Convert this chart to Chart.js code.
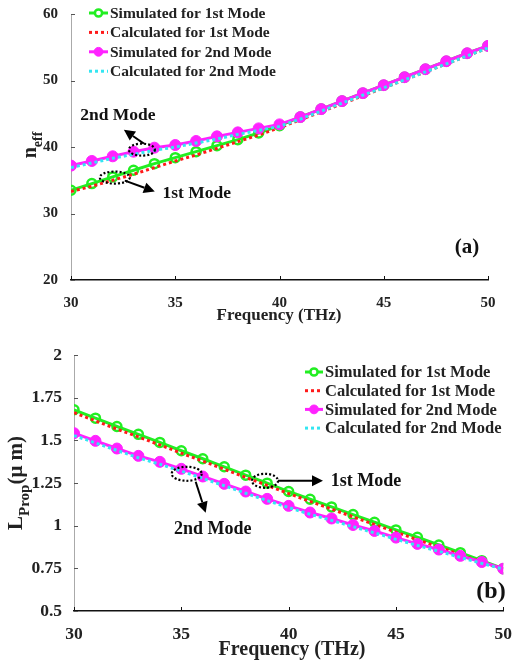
<!DOCTYPE html>
<html>
<head>
<meta charset="utf-8">
<script src="https://cdn.jsdelivr.net/npm/chart.js@4.4.0/dist/chart.umd.min.js"></script>
<style>
    html, body { margin: 0; padding: 0; background: #fff; }
    #wrap { position: relative; width: 517px; height: 662px; }
    canvas { position: absolute; left: 0; }
</style>
</head>
<body>
<div id="wrap">
    <canvas id="neffChart" width="517" height="331" style="top:0"></canvas>
    <canvas id="lpropChart" width="517" height="331" style="top:331px"></canvas>
</div>
<script>
// Frequency (THz), shared by both panels
const freqs = [30, 31, 32, 33, 34, 35, 36, 37, 38, 39, 40, 41, 42, 43, 44, 45, 46, 47, 48, 49, 50];
const freqTicks = [30, 35, 40, 45, 50];

// (a) effective index
const neffSim1 = [33.5, 34.5, 35.5, 36.5, 37.5, 38.4, 39.3, 40.2, 41.1, 42.1, 43.2, 44.5, 45.7, 46.9, 48.1, 49.3, 50.5, 51.7, 52.9, 54.1, 55.2];
const neffCalc1 = [33.3, 34.1, 35.0, 35.9, 36.9, 37.9, 38.8, 39.8, 40.8, 41.8, 42.9, 44.1, 45.3, 46.5, 47.7, 48.9, 50.1, 51.3, 52.5, 53.7, 54.9];
const neffSim2 = [37.2, 37.9, 38.6, 39.3, 39.9, 40.3, 40.9, 41.6, 42.2, 42.8, 43.4, 44.5, 45.7, 46.9, 48.1, 49.3, 50.5, 51.7, 52.9, 54.1, 55.2];
const neffCalc2 = [36.9, 37.6, 38.3, 38.9, 39.5, 40.0, 40.6, 41.2, 41.9, 42.5, 43.1, 44.2, 45.4, 46.6, 47.8, 48.9, 50.1, 51.3, 52.5, 53.7, 54.9];
const neffTicks = [20, 30, 40, 50, 60];

// (b) propagation length (um)
const lpSim1 = [1.679, 1.630, 1.581, 1.535, 1.488, 1.439, 1.392, 1.345, 1.296, 1.249, 1.200, 1.155, 1.110, 1.065, 1.020, 0.975, 0.932, 0.887, 0.842, 0.795, 0.748];
const lpCalc1 = [1.662, 1.614, 1.566, 1.520, 1.473, 1.425, 1.378, 1.331, 1.283, 1.236, 1.188, 1.142, 1.097, 1.052, 1.007, 0.962, 0.918, 0.874, 0.830, 0.787, 0.745];
const lpSim2 = [1.542, 1.497, 1.452, 1.409, 1.374, 1.333, 1.288, 1.245, 1.200, 1.157, 1.116, 1.077, 1.042, 1.004, 0.969, 0.930, 0.893, 0.860, 0.823, 0.787, 0.748];
const lpCalc2 = [1.528, 1.485, 1.441, 1.398, 1.360, 1.320, 1.277, 1.234, 1.190, 1.147, 1.106, 1.067, 1.031, 0.994, 0.958, 0.920, 0.884, 0.850, 0.814, 0.779, 0.745];
const lpTicks = [0.5, 0.75, 1, 1.25, 1.5, 1.75, 2];

const seriesNames = ['Simulated for 1st Mode', 'Calculated for 1st Mode', 'Simulated for 2nd Mode', 'Calculated for 2nd Mode'];

const SERIF = '"Liberation Serif", "Times New Roman", serif';

function pts(ys) {
    return freqs.map((f, i) => ({ x: f, y: ys[i] }));
}

function makeDatasets(s1, c1, s2, c2) {
    return [
        {
            label: seriesNames[0], data: pts(s1), order: 4,
            borderColor: '#22ee22', borderWidth: 3,
            pointStyle: 'circle', pointRadius: 4.5, pointBorderWidth: 2.5,
            pointBorderColor: '#22ee22', pointBackgroundColor: 'rgba(255,255,255,0)'
        },
        {
            label: seriesNames[1], data: pts(c1), order: 3,
            borderColor: '#ff1a1a', borderWidth: 3, borderDash: [3, 3], pointRadius: 0
        },
        {
            label: seriesNames[2], data: pts(s2), order: 2,
            borderColor: '#ff22ff', borderWidth: 3,
            pointStyle: 'circle', pointRadius: 5.5, pointBorderWidth: 1,
            pointBorderColor: '#ff22ff', pointBackgroundColor: '#ff22ff'
        },
        {
            label: seriesNames[3], data: pts(c2), order: 1,
            borderColor: '#33e6f2', borderWidth: 3, borderDash: [3, 3], pointRadius: 0
        }
    ];
}

// ticks pointing into the plot, titles with subscripts, legend, notes
const decorPlugin = {
    id: 'decor',
    afterDraw(chart, args, o) {
        const ctx = chart.ctx;
        const xs = chart.scales.x, ys = chart.scales.y;
        const a = chart.chartArea;
        ctx.save();

        // inward ticks
        ctx.lineWidth = 1;
        ctx.strokeStyle = '#111';
        xs.ticks.forEach(t => {
            const px = Math.round(xs.getPixelForValue(t.value)) + 0.5;
            ctx.beginPath(); ctx.moveTo(px, a.bottom); ctx.lineTo(px, a.bottom - 4); ctx.stroke();
        });
        ctx.strokeStyle = '#555';
        ys.ticks.forEach(t => {
            const py = Math.round(ys.getPixelForValue(t.value)) + 0.5;
            ctx.beginPath(); ctx.moveTo(a.left, py); ctx.lineTo(a.left + 4, py); ctx.stroke();
        });

        ctx.fillStyle = '#222';
        ctx.textBaseline = 'middle';

        // x title
        ctx.textAlign = 'center';
        ctx.font = 'bold ' + o.xTitle.size + 'px ' + SERIF;
        ctx.fillText(o.xTitle.text, o.xTitle.x, o.xTitle.y);

        // y title with subscript, rotated
        const yt = o.yTitle;
        ctx.save();
        ctx.translate(yt.x, yt.y);
        ctx.rotate(-Math.PI / 2);
        const fMain = 'bold ' + yt.size + 'px ' + SERIF;
        const fSub = 'bold ' + yt.subSize + 'px ' + SERIF;
        ctx.font = fMain; const w1 = ctx.measureText(yt.main).width;
        ctx.font = fSub; const w2 = ctx.measureText(yt.sub).width;
        let w3 = 0;
        if (yt.rest) { ctx.font = fMain; w3 = ctx.measureText(yt.rest).width; }
        let cx = -(w1 + w2 + w3) / 2;
        ctx.textAlign = 'left';
        ctx.font = fMain; ctx.fillText(yt.main, cx, 0); cx += w1;
        ctx.font = fSub; ctx.fillText(yt.sub, cx, yt.size * 0.38); cx += w2;
        if (yt.rest) { ctx.font = fMain; ctx.fillText(yt.rest, cx, 0); }
        ctx.restore();

        // legend
        const lg = o.legend;
        chart.data.datasets.forEach((ds, i) => {
            const y = lg.y + i * lg.rowH;
            ctx.save();
            ctx.strokeStyle = ds.borderColor;
            ctx.lineWidth = ds.borderWidth;
            ctx.setLineDash(ds.borderDash || []);
            ctx.beginPath(); ctx.moveTo(lg.x, y); ctx.lineTo(lg.x + lg.sampleW, y); ctx.stroke();
            ctx.setLineDash([]);
            if (ds.pointRadius) {
                const mx = lg.x + lg.sampleW / 2;
                ctx.beginPath(); ctx.arc(mx, y, ds.pointRadius * 0.8, 0, Math.PI * 2);
                if (ds.pointBackgroundColor !== 'rgba(255,255,255,0)') {
                    ctx.fillStyle = ds.pointBackgroundColor; ctx.fill();
                } else {
                    ctx.fillStyle = '#fff'; ctx.fill();
                }
                ctx.lineWidth = ds.pointBorderWidth; ctx.strokeStyle = ds.pointBorderColor; ctx.stroke();
            }
            ctx.restore();
            ctx.fillStyle = '#222';
            ctx.textAlign = 'left';
            ctx.font = 'bold ' + lg.size + 'px ' + SERIF;
            ctx.fillText(ds.label, lg.x + lg.sampleW + 2, y + 1);
        });

        // notes: dotted ellipse, arrow, text
        o.notes.forEach(n => {
            const ex = xs.getPixelForValue(n.at[0]);
            const ey = ys.getPixelForValue(n.at[1]);
            ctx.save();
            ctx.strokeStyle = '#000';
            ctx.lineWidth = 2.2;
            ctx.setLineDash([2, 2]);
            ctx.beginPath(); ctx.ellipse(ex, ey, n.rx, n.ry, n.rot || 0, 0, Math.PI * 2); ctx.stroke();
            ctx.setLineDash([]);
            const x1 = ex + n.from[0], y1 = ey + n.from[1];
            const x2 = ex + n.to[0], y2 = ey + n.to[1];
            const ang = Math.atan2(y2 - y1, x2 - x1);
            const hl = 11, hw = 5.5;
            const bx = x2 - hl * Math.cos(ang), by = y2 - hl * Math.sin(ang);
            ctx.lineWidth = 2;
            ctx.beginPath(); ctx.moveTo(x1, y1); ctx.lineTo(bx, by); ctx.stroke();
            ctx.fillStyle = '#000';
            ctx.beginPath();
            ctx.moveTo(x2, y2);
            ctx.lineTo(bx + hw * Math.sin(ang), by - hw * Math.cos(ang));
            ctx.lineTo(bx - hw * Math.sin(ang), by + hw * Math.cos(ang));
            ctx.closePath(); ctx.fill();
            ctx.fillStyle = '#111';
            ctx.textAlign = 'center';
            ctx.font = 'bold ' + n.size + 'px ' + SERIF;
            ctx.fillText(n.text, ex + n.textAt[0], ey + n.textAt[1]);
            ctx.restore();
        });

        // panel label
        ctx.fillStyle = '#111';
        ctx.textAlign = 'center';
        ctx.font = 'bold ' + o.panel.size + 'px ' + SERIF;
        ctx.fillText(o.panel.text, o.panel.x, o.panel.y);

        ctx.restore();
    }
};

function makeChart(id, datasets, yMin, yMax, yTicks, sizes, decor) {
    const ctx = document.getElementById(id).getContext('2d');
    return new Chart(ctx, {
        type: 'line',
        data: { datasets: datasets },
        options: {
            responsive: false,
            animation: false,
            devicePixelRatio: 1,
            layout: { padding: sizes.padding },
            plugins: { legend: { display: false }, tooltip: { enabled: false }, decor: decor },
            scales: {
                x: {
                    type: 'linear', min: 30, max: 50,
                    afterBuildTicks: s => { s.ticks = freqTicks.map(v => ({ value: v })); },
                    afterFit: s => { s.height = sizes.xHeight; },
                    grid: { display: false },
                    border: { display: true, color: '#111', width: 1.5 },
                    ticks: {
                        color: '#222', padding: sizes.xPad,
                        callback: v => String(v),
                        font: { family: SERIF, size: sizes.tick, weight: 'bold' }
                    }
                },
                y: {
                    type: 'linear', min: yMin, max: yMax,
                    afterBuildTicks: s => { s.ticks = yTicks.map(v => ({ value: v })); },
                    afterFit: s => { s.width = sizes.yWidth; },
                    grid: { display: false },
                    border: { display: true, color: '#aaa', width: 1 },
                    ticks: {
                        color: '#222', padding: sizes.yPad,
                        callback: v => String(+v.toFixed(2)),
                        font: { family: SERIF, size: sizes.tick, weight: 'bold' }
                    }
                }
            }
        },
        plugins: [decorPlugin]
    });
}

makeChart('neffChart', makeDatasets(neffSim1, neffCalc1, neffSim2, neffCalc2), 20, 60, neffTicks,
    { padding: { top: 11, right: 29, left: 0, bottom: 0 }, xHeight: 51, yWidth: 71, xPad: 6, yPad: 5, tick: 15 },
    {
        xTitle: { text: 'Frequency (THz)', x: 279, y: 316, size: 17 },
        yTitle: { main: 'n', sub: 'eff', x: 31, y: 145, size: 20, subSize: 14 },
        legend: { x: 89, y: 13, rowH: 19.4, sampleW: 19, size: 15.5 },
        panel: { text: '(a)', x: 467, y: 248, size: 21 },
        notes: [
            { text: '2nd Mode', at: [33.4, 39.6], rx: 13, ry: 6, from: [2, -6], to: [-18, -20], textAt: [-24, -34], size: 17.5 },
            { text: '1st Mode', at: [32.1, 35.4], rx: 15, ry: 6, from: [10, 3], to: [40, 14], textAt: [82, 16], size: 17.5 }
        ]
    });

makeChart('lpropChart', makeDatasets(lpSim1, lpCalc1, lpSim2, lpCalc2), 0.5, 2, lpTicks,
    { padding: { top: 24, right: 9, left: 0, bottom: 0 }, xHeight: 51, yWidth: 74, xPad: 5, yPad: 4, tick: 17.5 },
    {
        xTitle: { text: 'Frequency (THz)', x: 292, y: 319, size: 20 },
        yTitle: { main: 'L', sub: 'Prop', rest: '(\u03bc m)', x: 17, y: 152, size: 21, subSize: 15 },
        legend: { x: 305, y: 41, rowH: 18.7, sampleW: 18, size: 16.5 },
        panel: { text: '(b)', x: 491, y: 261, size: 24 },
        notes: [
            { text: '1st Mode', at: [38.9, 1.263], rx: 13, ry: 7, from: [13, 0], to: [58, 0], textAt: [101, 1], size: 18 },
            { text: '2nd Mode', at: [35.25, 1.304], rx: 15, ry: 7, from: [9, 8], to: [19, 39], textAt: [26, 56], size: 18 }
        ]
    });
</script>
</body>
</html>
